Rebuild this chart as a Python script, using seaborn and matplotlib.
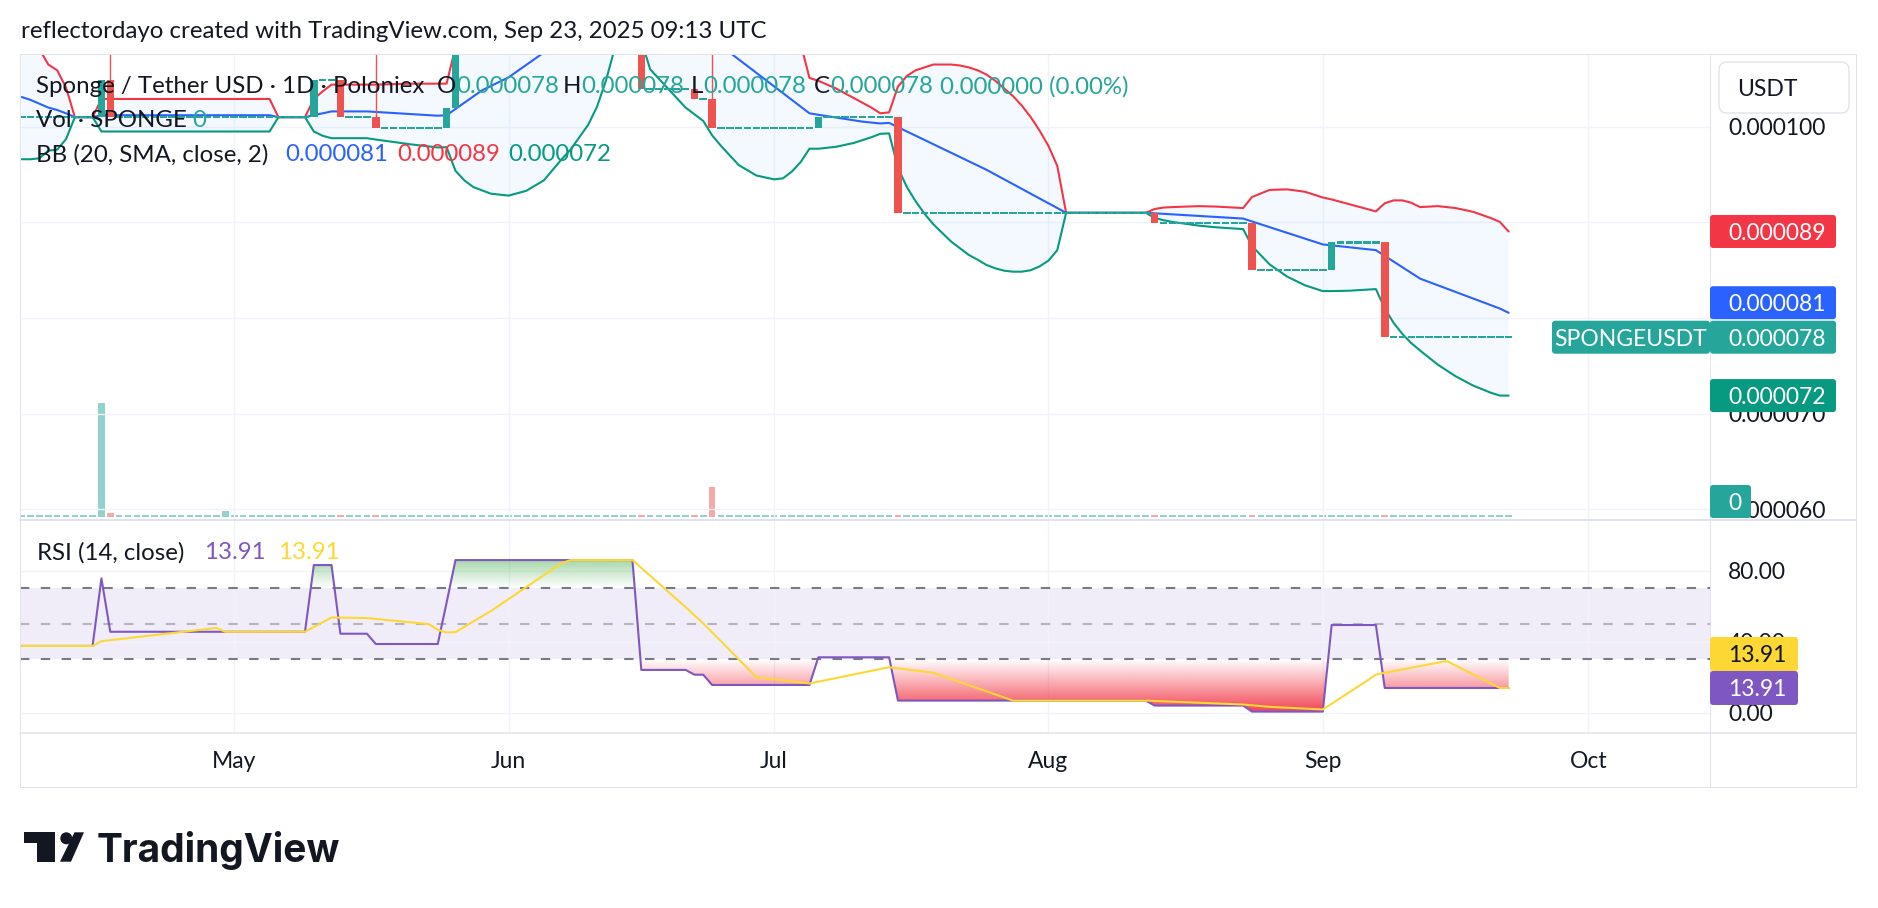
import numpy as np
import pandas as pd
import seaborn as sns
import matplotlib.pyplot as plt
from matplotlib.patches import FancyBboxPatch, Polygon, Circle, PathPatch
from matplotlib.path import Path
from matplotlib.lines import Line2D
from matplotlib.transforms import IdentityTransform
from matplotlib.colors import to_rgb

W, H = 1878, 908

# ---------------- data ----------------
# daily bars, x = days from 1 May 2025 (first bar 7 Apr, last bar 22 Sep)
first_day, last_day = -24, 144
# closes in millionths of USDT (0.000101 -> 101.0)
close_e6 = ([101.0] * 9 + [104.9] + [101.0] * 23 + [104.9] * 3 + [101.0] * 4
            + [99.9] * 8 + [102.0] + [114.0] * 21 + [103.9] * 6 + [102.9] * 2
            + [99.9] * 12 + [101.0] * 9 + [91.0] * 29 + [89.9] * 11 + [85.0] * 9
            + [87.9] * 6 + [78.0] * 15)
wick_days = [-14, 16, 54]
wick_high_e6 = [112.0, 112.0, 112.0]

vol_days = [-15, -14, -1, 46, 52, 54]
vol_k = [1140, 34, 54, 12, 12, 294]   # thousand SPONGE

# Bollinger Bands (20, SMA, 2): (day, value e-6)
bb_upper = [(-24, 109.6), (-23, 109.0), (-22, 108.1), (-21, 106.5), (-20, 105.9), (-19, 104.1),
            (-18, 101.0), (-16, 101.0), (-15, 102.9), (4, 102.9), (5, 101.0), (8, 101.0),
            (9, 102.9), (10, 103.7), (11, 104.4), (16, 104.4), (20, 104.5), (24, 104.5),
            (25, 108.3), (26, 110.9), (27, 112.9), (29, 115.9), (31, 118.2), (33, 120.1),
            (35, 121.6), (38, 122.5), (40, 122.2), (42, 120.6), (43, 118.6), (44, 114.0),
            (45, 114.0), (46, 117.9), (47, 119.0), (50, 120.2), (53, 120.0), (55, 119.8),
            (57, 118.7), (59, 117.0), (61, 114.6), (62, 113.0), (63, 111.1), (64, 108.7),
            (65, 105.1), (66, 104.8), (68, 104.0), (70, 103.0), (72, 102.0), (73, 101.4),
            (74, 101.5), (75, 104.2), (76, 105.3), (77, 105.9), (79, 106.5), (81, 106.5),
            (82, 106.4), (83, 106.2), (84, 105.9), (85, 105.45), (86, 104.8), (87, 104.0),
            (88, 103.2), (89, 102.2), (90, 101.0), (91, 99.6), (92, 98.0), (93, 95.9),
            (94, 91.0), (103, 91.0), (104, 91.4), (105, 91.55), (106, 91.6), (109, 91.7),
            (111, 91.65), (114, 91.5), (115, 92.65), (117, 93.4), (119, 93.45), (121, 93.2),
            (123, 92.6), (124, 92.4), (126, 91.9), (129, 91.15), (130, 92.0), (131, 92.3),
            (132, 92.3), (133, 92.05), (134, 91.6), (136, 91.7), (138, 91.5), (140, 91.1),
            (142, 90.45), (143, 90.05), (144, 89.05)]
bb_basis = [(-24, 103.1), (-23, 102.8), (-22, 102.4), (-21, 102.0), (-20, 101.75), (-19, 101.4),
            (-18, 101.0), (-16, 101.0), (-15, 101.2), (4, 101.2), (5, 101.0), (8, 101.0),
            (9, 101.2), (11, 101.6), (15, 101.6), (23, 101.15), (24, 101.2), (25, 101.85),
            (28, 103.8), (29, 104.25), (31, 105.16), (35, 107.76), (43, 113.4), (44, 114.0),
            (45, 114.0), (46, 113.5), (47, 113.0), (51, 110.97), (53, 109.86), (65, 101.4),
            (66, 101.25), (71, 100.53), (73, 100.34), (74, 100.4), (75, 99.95), (85, 95.5),
            (94, 91.0), (103, 91.0), (104, 90.95), (114, 90.4), (123, 87.7), (129, 87.1),
            (130, 86.5), (134, 84.12), (143, 81.0), (144, 80.55)]
bb_lower = [(-24, 96.6), (-23, 96.6), (-22, 96.7), (-21, 97.5), (-20, 97.6), (-19, 98.7),
            (-18, 101.0), (-16, 101.0), (-15, 99.5), (4, 99.5), (5, 101.0), (8, 101.0),
            (9, 99.5), (10, 99.05), (11, 98.8), (15, 98.8), (16, 98.66), (20, 98.15),
            (23, 97.83), (24, 97.86), (25, 95.4), (26, 94.4), (27, 93.7), (29, 93.0),
            (31, 92.8), (33, 93.3), (35, 94.4), (37, 96.6), (38, 97.6), (40, 100.2),
            (41, 102.1), (42, 104.8), (43, 108.2), (44, 114.0), (45, 114.0), (46, 109.0),
            (47, 106.0), (49, 104.0), (51, 102.0), (53, 100.6), (54, 99.1), (55, 98.0),
            (57, 96.0), (59, 94.9), (61, 94.5), (62, 94.6), (63, 95.3), (64, 96.3),
            (65, 97.7), (66, 97.7), (68, 97.9), (70, 98.3), (72, 98.9), (73, 99.26),
            (74, 99.3), (75, 95.7), (76, 93.7), (77, 92.2), (78, 90.9), (79, 89.8),
            (80, 88.9), (81, 88.0), (82, 87.3), (83, 86.6), (84, 86.1), (85, 85.55),
            (86, 85.2), (87, 84.95), (88, 84.85), (89, 84.85), (90, 85.0), (91, 85.4),
            (92, 86.0), (93, 87.1), (94, 91.0), (103, 91.0), (104, 90.47), (105, 90.23),
            (106, 90.05), (109, 89.66), (111, 89.48), (114, 89.3), (115, 87.53), (117, 85.6),
            (119, 84.32), (121, 83.42), (123, 82.82), (124, 82.82), (126, 82.86), (129, 83.03),
            (130, 81.0), (131, 79.5), (132, 78.33), (133, 77.38), (134, 76.6), (136, 75.13),
            (138, 73.92), (140, 72.94), (142, 72.19), (143, 71.9), (144, 71.9)]

# RSI (14) daily values and its 14-day MA vertices
rsi = ([37.6] * 9 + [75.7] + [45.6] * 23 + [83.2] * 3 + [44.5] * 4 + [38.7] * 8 + [62.0]
       + [86.0] * 21 + [24.1] * 6 + [21.4] * 2 + [15.6] * 12 + [31.2] * 9 + [6.8] * 29
       + [4.0] * 11 + [0.6] * 9 + [49.4] * 6 + [13.91] * 15)
rsi_ma = [(-24, 37.6), (-16, 37.6), (-15, 40.3), (-2, 47.73), (-1, 45.58), (8, 45.6),
          (11, 53.66), (15, 53.34), (22, 49.9), (23, 46.72), (24, 45.2), (25, 45.4),
          (29, 57.27), (37, 84.3), (38, 86.0), (45, 86.0), (51, 59.5), (53, 50.3),
          (54, 45.25), (58, 25.1), (59, 20.07), (65, 16.43), (74, 25.63), (79, 22.49),
          (88, 6.8), (103, 6.8), (114, 4.6), (117, 3.27), (123, 1.81), (128, 18.0),
          (129, 21.5), (130, 22.46), (137, 29.12), (143, 13.91), (144, 13.91)]

day0 = pd.Timestamp("2025-05-01")
months = pd.date_range("2025-05-01", "2025-10-01", freq="MS")
price_ticks_e6 = [60, 70, 80, 90, 100]
hidden_price_ticks = [80, 90]        # covered by the last-value labels
rsi_ticks = [0, 40, 80]

# ---------------- style ----------------
TEAL, RED = "#26A69A", "#EF5350"
BB_RED, BB_BLUE, BB_GREEN = "#F23645", "#2962FF", "#089981"
PURPLE, YELLOW = "#7E57C2", "#FDD835"
TXT, GRID, FRAME = "#131722", "#F0F3FA", "#E0E3EB"
FS = 16.5      # axis / label text
FS_LEG = 17.3  # legend text

sns.set_theme(style="white")
plt.rcParams["font.family"] = ["Lato", "DejaVu Sans"]

fig = plt.figure(figsize=(W / 100, H / 100), dpi=100)
fig.patch.set_facecolor("white")


def fx(x):
    return x / W


def fy(y):
    return 1 - y / H


ax_p = fig.add_axes([fx(20), fy(519), 1690 / W, 465 / H])
ax_r = fig.add_axes([fx(20), fy(732), 1690 / W, 212 / H])
ax_v = ax_p.twinx()
ax_v.set_zorder(ax_p.get_zorder() - 1)
ax_p.patch.set_visible(False)

xlim = (-24.2, 166.75)
days = np.arange(first_day, last_day + 1)
close = np.array(close_e6)
open_ = np.r_[close[0], close[:-1]]
diff = close - open_

# ---- price pane ----
up = np.array(bb_upper)
lo = np.array(bb_lower)
poly = np.vstack([up, lo[::-1]])
ax_p.fill(poly[:, 0], poly[:, 1], color="#2196F3", alpha=0.05, lw=0, zorder=1)
for pts, col in [(bb_upper, BB_RED), (bb_basis, BB_BLUE), (bb_lower, BB_GREEN)]:
    a = np.array(pts)
    sns.lineplot(x=a[:, 0], y=a[:, 1], ax=ax_p, color=col, linewidth=1.5, zorder=2, legend=False)

doji = np.abs(diff) < 1e-9
ccol = np.where(diff < 0, RED, TEAL)
bottom = np.where(doji, close - 0.11, np.minimum(open_, close))
height = np.where(doji, 0.22, np.abs(diff))
for d, hi in zip(wick_days, wick_high_e6):
    i = d - first_day
    ax_p.vlines(d, max(open_[i], close[i]), hi, color=RED, lw=1.0, zorder=4)
ax_p.bar(days, height, bottom=bottom, width=0.85, color=ccol, linewidth=0, zorder=5)

# volume overlay
vol = np.zeros(len(days))
vol[np.array(vol_days) - first_day] = vol_k
vtop = max(vol_k) / 0.246
eps = vtop / 465 * 2
vcol = np.where(diff < 0, "#F7A9A7", "#92D2CC")
ax_v.bar(days, np.maximum(vol, eps), width=0.75, color=vcol, linewidth=0)
ax_v.set_ylim(-vtop * 2.3 / 465, vtop)
ax_v.axis("off")

month_x = [(m - day0).days for m in months]
ax_p.set_xticks(month_x)
ax_p.set_yticks(price_ticks_e6)
ax_p.set_yticklabels(["" if v in hidden_price_ticks else f"{v / 1e6:.6f}" for v in price_ticks_e6])
ax_p.grid(True, color=GRID, lw=1.0)
ax_p.set_axisbelow(True)
ax_p.yaxis.tick_right()
ax_p.tick_params(axis="y", length=0, pad=13, labelsize=FS, labelcolor=TXT)
ax_p.tick_params(axis="x", length=0, labelbottom=False)
ax_p.set_xlim(*xlim)
ax_p.set_ylim(59.0, 107.6)
ax_v.set_xlim(*xlim)
ax_p.set_xlabel("")
ax_p.set_ylabel("")

# ---- RSI pane ----
rsi_arr = np.array(rsi, dtype=float)
ax_r.axhspan(30, 70, color=PURPLE, alpha=0.1, lw=0, zorder=0.5)
for lvl, al in [(70, 1.0), (30, 1.0), (50, 0.5)]:
    ax_r.axhline(lvl, color="#787B86", alpha=al, lw=1.5, linestyle=(0, (4.5, 5.5)), zorder=1)


def grad_fill(ax, x, y, ref, ylo, yhi, color, a_lo, a_hi, mask):
    coll = ax.fill_between(x, y, ref, where=mask, interpolate=True,
                           facecolor="none", edgecolor="none")
    paths = [p for p in coll.get_paths() if len(p.vertices)]
    coll.remove()
    if not paths:
        return
    clip = PathPatch(Path.make_compound_path(*paths), transform=ax.transData,
                     facecolor="none", edgecolor="none")
    ax.add_patch(clip)
    n = 200
    img = np.zeros((n, 2, 4))
    img[..., :3] = to_rgb(color)
    img[..., 3] = np.linspace(a_lo, a_hi, n)[:, None]
    im = ax.imshow(img, extent=(x[0], x[-1], ylo, yhi), origin="lower",
                   aspect="auto", interpolation="bilinear", zorder=2)
    im.set_clip_path(clip)


grad_fill(ax_r, days, rsi_arr, 70, 70, 100, "#4CAF50", 0.0, 0.95, rsi_arr >= 70)
grad_fill(ax_r, days, rsi_arr, 30, 0, 30, "#F23645", 0.95, 0.0, rsi_arr <= 30)

sns.lineplot(x=days, y=rsi_arr, ax=ax_r, color=PURPLE, linewidth=1.5, zorder=4, legend=False)
ma = np.array(rsi_ma)
sns.lineplot(x=ma[:, 0], y=ma[:, 1], ax=ax_r, color=YELLOW, linewidth=1.5, zorder=5, legend=False)

ax_r.set_xticks(month_x)
ax_r.set_xticklabels([m.strftime("%b") for m in months])
ax_r.set_yticks(rsi_ticks)
ax_r.set_yticklabels([f"{v:.2f}" for v in rsi_ticks])
ax_r.grid(True, color=GRID, lw=1.0)
ax_r.set_axisbelow(True)
ax_r.yaxis.tick_right()
ax_r.tick_params(axis="y", length=0, pad=13, labelsize=FS, labelcolor=TXT)
ax_r.tick_params(axis="x", length=0, pad=13.5, labelsize=FS, labelcolor=TXT)
ax_r.set_xlim(*xlim)
ax_r.set_ylim(-10.9, 108.6)
ax_r.set_xlabel("")
ax_r.set_ylabel("")

for ax in (ax_p, ax_r):
    for s in ax.spines.values():
        s.set_visible(False)


# ---------------- overlays (pixel space) ----------------
def seg(x0, y0, x1, y1, lw=1.0, c=FRAME, z=2.5):
    fig.add_artist(Line2D([x0, x1], [H - y0, H - y1], transform=IdentityTransform(),
                          color=c, lw=lw * 0.72, zorder=z))


seg(20, 54, 1856, 54)
seg(20, 787, 1856, 787)
seg(20, 54, 20, 787)
seg(1856, 54, 1856, 787)
seg(20, 519.5, 1856, 519.5, lw=2)
seg(20, 733, 1856, 733, lw=1.5)
seg(1710, 54, 1710, 787)

renderer = fig.canvas.get_renderer()


def txt(x, yb, s, color=TXT, size=FS, **kw):
    return fig.text(fx(x), fy(yb), s, color=color, fontsize=size, va="baseline",
                    ha="left", zorder=6, **kw)


def chain(x, yb, pieces, size=FS_LEG):
    for s, c in pieces:
        t = txt(x, yb, s, c, size)
        x += t.get_window_extent(renderer).width


def ypix(ax, v):
    return H - ax.transData.transform((0, v))[1]


def label_box(x0, yc, w, fc, text, tc, tx=1728, h=33, ha="left"):
    p = FancyBboxPatch((x0, H - yc - h / 2), w, h, boxstyle="round,pad=0,rounding_size=3",
                       transform=IdentityTransform(), fc=fc, ec="none", zorder=5)
    fig.add_artist(p)
    fig.text(fx(tx), fy(yc + 8.3), text, color=tc, fontsize=FS, ha=ha, va="baseline", zorder=6)


last_close = close[-1]
last_up, last_mid, last_lo = bb_upper[-1][1], bb_basis[-1][1], bb_lower[-1][1]
y_teal = ypix(ax_p, last_close)
y_red = ypix(ax_p, last_up)
y_blue = min(ypix(ax_p, last_mid), y_teal - 34.5)
y_green = ypix(ax_p, last_lo)
y_vol = min(ypix(ax_v, 0), 518 - 16.5)

label_box(1710, y_red, 126, BB_RED, f"{last_up / 1e6:.6f}", "white")
label_box(1710, y_blue, 126, BB_BLUE, f"{last_mid / 1e6:.6f}", "white")
label_box(1552, y_teal, 158, TEAL, "SPONGEUSDT", "white", tx=1631, ha="center")
label_box(1710, y_teal, 126, TEAL, f"{last_close / 1e6:.6f}", "white")
label_box(1710, y_green, 126, BB_GREEN, f"{last_lo / 1e6:.6f}", "white")
label_box(1710, y_vol, 41, TEAL, "0", "white")

y_purple = ypix(ax_r, rsi_arr[-1])
label_box(1710, y_purple - 34, 88, "#FDD835", f"{ma[-1, 1]:.2f}", TXT, h=34)
label_box(1710, y_purple, 88, PURPLE, f"{rsi_arr[-1]:.2f}", "white", h=34)

# currency button
fig.add_artist(FancyBboxPatch((1719, H - 113), 130, 51, boxstyle="round,pad=0,rounding_size=8",
                              transform=IdentityTransform(), fc="white", ec=FRAME, lw=1, zorder=5))
txt(1737, 96, "USDT")

# header and legends
txt(21, 38.3, "reflectordayo created with TradingView.com, Sep 23, 2025 09:13 UTC", size=17.3)

cs = f"{last_close / 1e6:.6f}"
chg = close[-1] - open_[-1]
txt(36, 93.3, "Sponge / Tether USD · 1D · Poloniex", size=FS_LEG)
chain(437, 93.3, [("O", TXT), (cs, TEAL)])
chain(563, 93.3, [("H", TXT), (cs, TEAL)])
chain(691, 93.3, [("L", TXT), (cs, TEAL)])
chain(814, 93.3, [("C", TXT), (cs, TEAL)])
txt(940, 93.3, f"{chg / 1e6:.6f} ({chg / open_[-1] * 100:.2f}%)", TEAL, FS_LEG)
txt(36, 126.7, "Vol · SPONGE", size=FS_LEG)
txt(192, 126.7, "0", TEAL, FS_LEG)
txt(36, 161.3, "BB (20, SMA, close, 2)", size=FS_LEG)
txt(285.7, 161.3, f"{last_mid / 1e6:.6f}", BB_BLUE, FS_LEG)
txt(397.3, 161.3, f"{last_up / 1e6:.6f}", BB_RED, FS_LEG)
txt(508.3, 161.3, f"{last_lo / 1e6:.6f}", BB_GREEN, FS_LEG)
txt(36.7, 559.3, "RSI (14, close)", size=FS_LEG)
txt(204.3, 559.3, f"{rsi_arr[-1]:.2f}", PURPLE, FS_LEG)
txt(278.3, 559.3, f"{ma[-1, 1]:.2f}", YELLOW, FS_LEG)

# TradingView logo
LOGO = "#131722"
fig.add_artist(Polygon([(24, H - 832.3), (55, H - 832.3), (55, H - 861.7), (36.7, H - 861.7),
                        (36.7, H - 843.3), (24, H - 843.3)], closed=True,
                       transform=IdentityTransform(), fc=LOGO, ec="none"))
fig.add_artist(Circle((66.3, H - 838.3), 6.0, transform=IdentityTransform(), fc=LOGO, ec="none"))
fig.add_artist(Polygon([(74.5, H - 832.3), (84, H - 832.3), (71, H - 861.7), (60, H - 861.7)],
                       closed=True, transform=IdentityTransform(), fc=LOGO, ec="none"))
fig.text(fx(96.7), fy(861.7), "TradingView", fontsize=28.0, fontweight="bold",
         family=["Inter", "DejaVu Sans"], color=LOGO, va="baseline", ha="left")

fig.savefig("out.png", dpi=100, facecolor="white")
